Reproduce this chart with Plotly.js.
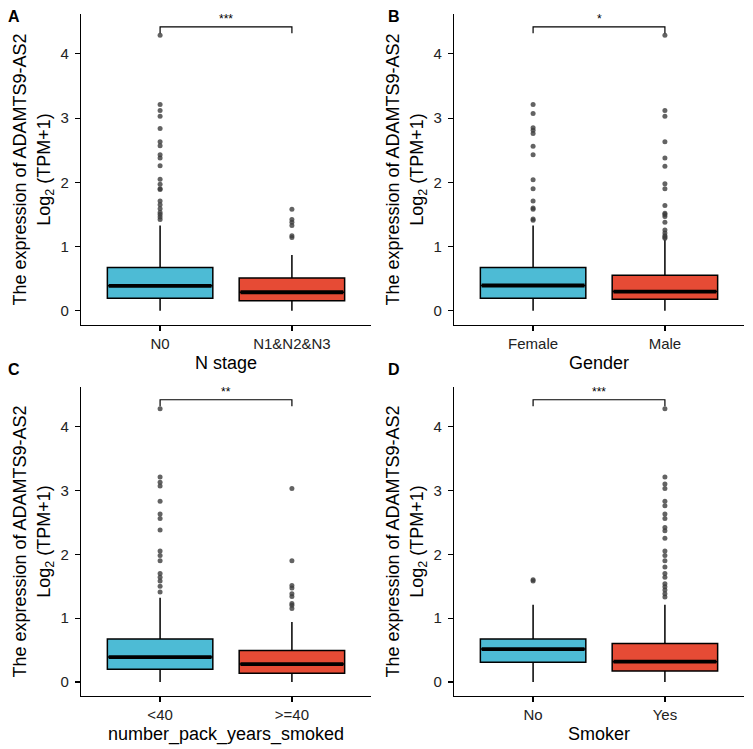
<!DOCTYPE html>
<html>
<head>
<meta charset="utf-8">
<script src="https://cdn.plot.ly/plotly-3.0.1.min.js"></script>
<style>
  html, body { margin: 0; padding: 0; background: #fff; }
  #chart { width: 753px; height: 749px; }
</style>
</head>
<body>
<div id="chart"></div>
<script>
// values (log2(TPM+1))
const panelLetters = ['A', 'B', 'C', 'D'];
const xTitles = ['N stage', 'Gender', 'number_pack_years_smoked', 'Smoker'];
const sigLabels = ['***', '*', '**', '***'];

const groupsA = ['N0', 'N1&N2&N3'];
const q1A = [0.198, 0.156];
const medA = [0.39, 0.29];
const q3A = [0.675, 0.51];
const lowA = [0, 0];
const highA = [1.33, 0.87];
const outA0 = [4.29, 3.21, 3.12, 3.03, 2.84, 2.63, 2.57, 2.43, 2.38, 2.26, 2.05, 1.97, 1.90, 1.89, 1.71, 1.65, 1.59, 1.53, 1.50, 1.46, 1.42];
const outA1 = [1.58, 1.42, 1.38, 1.33, 1.17, 1.14];

const groupsB = ['Female', 'Male'];
const q1B = [0.198, 0.18];
const medB = [0.395, 0.30];
const q3B = [0.676, 0.556];
const lowB = [0, 0];
const highB = [1.33, 1.11];
const outB0 = [3.21, 3.07, 2.85, 2.81, 2.76, 2.56, 2.43, 2.04, 1.90, 1.71, 1.60, 1.58, 1.43, 1.41];
const outB1 = [4.29, 3.12, 3.03, 2.63, 2.38, 2.25, 1.98, 1.90, 1.64, 1.52, 1.50, 1.47, 1.38, 1.26, 1.21, 1.17, 1.15, 1.13];

const groupsC = ['<40', '>=40'];
const q1C = [0.198, 0.135];
const medC = [0.39, 0.28];
const q3C = [0.671, 0.494];
const lowC = [0, 0];
const highC = [1.32, 0.94];
const outC0 = [4.28, 3.21, 3.13, 3.07, 2.83, 2.63, 2.56, 2.38, 2.05, 1.98, 1.90, 1.70, 1.64, 1.58, 1.50, 1.41];
const outC1 = [3.03, 1.90, 1.51, 1.47, 1.38, 1.34, 1.23, 1.20, 1.15];

const groupsD = ['No', 'Yes'];
const q1D = [0.307, 0.17];
const medD = [0.515, 0.317];
const q3D = [0.671, 0.603];
const lowD = [0, 0];
const highD = [1.21, 1.21];
const outD0 = [1.60, 1.58];
const outD1 = [4.28, 3.21, 3.10, 3.03, 2.83, 2.76, 2.63, 2.56, 2.42, 2.37, 2.25, 2.05, 1.98, 1.90, 1.80, 1.70, 1.64, 1.54, 1.49, 1.44, 1.38, 1.33];

const sigLow = 4.32;
const sigHigh = 4.42;

const panels = [
  { groups: groupsA, q1: q1A, med: medA, q3: q3A, low: lowA, high: highA, out: [outA0, outA1] },
  { groups: groupsB, q1: q1B, med: medB, q3: q3B, low: lowB, high: highB, out: [outB0, outB1] },
  { groups: groupsC, q1: q1C, med: medC, q3: q3C, low: lowC, high: highC, out: [outC0, outC1] },
  { groups: groupsD, q1: q1D, med: medD, q3: q3D, low: lowD, high: highD, out: [outD0, outD1] }
];

const fills = ['#4DBBD5', '#E64B35'];
const boxW = 0.8;
const W = 753, H = 749;
// plot area in pixels: [left, right, top, bottom]
const areas = [
  [81, 371, 14, 325],
  [454, 744, 14, 325],
  [81, 371, 387, 696],
  [454, 744, 387, 696]
];
const letterPos = [[14, 16], [394, 16], [14, 369], [394, 369]];

const traces = [];
const layout = {
  width: W, height: H,
  margin: { l: 0, r: 0, t: 0, b: 0 },
  paper_bgcolor: 'white',
  plot_bgcolor: 'white',
  showlegend: false,
  font: { family: 'Liberation Sans, Arial, sans-serif', color: '#000' },
  annotations: []
};

panels.forEach((p, k) => {
  const n = k + 1;
  const xa = 'x' + (n === 1 ? '' : n);
  const ya = 'y' + (n === 1 ? '' : n);
  const a = areas[k];

  p.groups.forEach((g, i) => {
    traces.push({
      type: 'box', xaxis: xa, yaxis: ya,
      x: [i], q1: [p.q1[i]], median: [p.med[i]], q3: [p.q3[i]],
      lowerfence: [p.low[i]], upperfence: [p.high[i]],
      width: boxW, whiskerwidth: 0, boxpoints: false,
      fillcolor: fills[i],
      line: { color: '#000', width: 1.5 },
      hoverinfo: 'skip'
    });
    // thick median bar like ggplot
    traces.push({
      type: 'scatter', mode: 'lines', xaxis: xa, yaxis: ya,
      x: [i - boxW / 2 + 0.01, i + boxW / 2 - 0.01], y: [p.med[i], p.med[i]],
      line: { color: '#000', width: 3.8 }, hoverinfo: 'skip'
    });
    traces.push({
      type: 'scatter', mode: 'markers', xaxis: xa, yaxis: ya,
      x: p.out[i].map(() => i), y: p.out[i],
      marker: { color: 'rgba(60,60,60,0.8)', size: 5 }, hoverinfo: 'skip'
    });
  });

  // significance bracket
  traces.push({
    type: 'scatter', mode: 'lines', xaxis: xa, yaxis: ya,
    x: [0, 0, 1, 1], y: [sigLow, sigHigh, sigHigh, sigLow],
    line: { color: '#000', width: 1.2 }, hoverinfo: 'skip'
  });
  layout.annotations.push({
    xref: xa, yref: ya, x: 0.5, y: sigHigh, yanchor: 'bottom',
    text: sigLabels[k], showarrow: false, yshift: -1,
    font: { size: 12, color: '#000' }
  });

  layout.annotations.push({
    xref: 'paper', yref: 'paper',
    x: letterPos[k][0] / W, y: 1 - letterPos[k][1] / H,
    xanchor: 'center', yanchor: 'middle', showarrow: false,
    text: '<b>' + panelLetters[k] + '</b>',
    font: { size: 16, color: '#000' }
  });

  layout['xaxis' + (n === 1 ? '' : n)] = {
    domain: [a[0] / W, a[1] / W], anchor: ya,
    range: [-0.6, 1.6], tickvals: [0, 1], ticktext: p.groups,
    showline: true, linecolor: '#000', linewidth: 1.2,
    ticks: 'outside', ticklen: 5, tickcolor: '#000', tickwidth: 1.2,
    tickfont: { size: 15, color: '#222' },
    showgrid: false, zeroline: false,
    title: { text: xTitles[k], font: { size: 18, color: '#000' }, standoff: 5 }
  };
  layout['yaxis' + (n === 1 ? '' : n)] = {
    domain: [1 - a[3] / H, 1 - a[2] / H], anchor: xa,
    range: [-0.22, 4.62], tickvals: [0, 1, 2, 3, 4],
    showline: true, linecolor: '#000', linewidth: 1.2,
    ticks: 'outside', ticklen: 5, tickcolor: '#000', tickwidth: 1.2,
    ticklabelstandoff: 3,
    tickfont: { size: 15, color: '#222' },
    showgrid: false, zeroline: false,
    title: { text: 'The expression of ADAMTS9-AS2<br>Log<sub>2</sub> (TPM+1)', font: { size: 18, color: '#000' }, standoff: 5 }
  };
});

Plotly.newPlot('chart', traces, layout, { displayModeBar: false, staticPlot: true });
</script>
</body>
</html>
